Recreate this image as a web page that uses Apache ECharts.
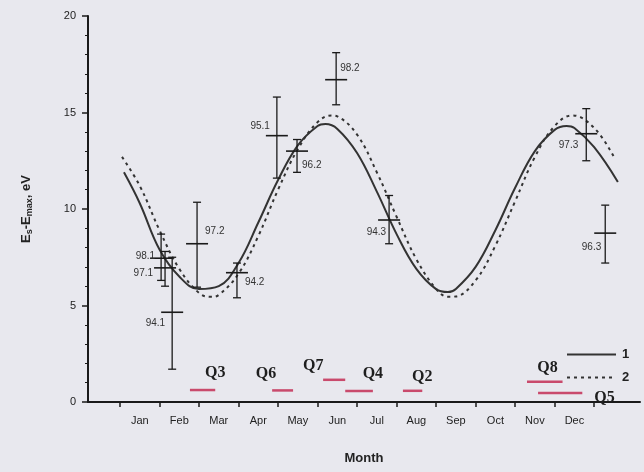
<!DOCTYPE html>
<html>
<head>
<meta charset="utf-8">
<script src="https://cdn.jsdelivr.net/npm/echarts@6/dist/echarts.min.js"></script>
<style>
  html, body { margin: 0; padding: 0; background: #e8e8ee; }
  #chart { width: 644px; height: 472px; }
</style>
</head>
<body>
<div id="chart"></div>
<script>
// Month names; x values are in months, January spans [0, 1].
const months = ['Jan', 'Feb', 'Mar', 'Apr', 'May', 'Jun', 'Jul', 'Aug', 'Sep', 'Oct', 'Nov', 'Dec'];
const yTicks = [0, 5, 10, 15, 20];

// Curve 1 (solid): [month, E_s - E_max]
const curve1 = [
  [0.1, 11.9], [0.5, 10.3], [1.0, 7.9], [1.5, 6.5], [2.0, 5.85], [2.5, 6.0],
  [3.0, 7.2], [3.5, 9.3], [4.0, 11.5], [4.5, 13.3], [5.0, 14.3], [5.2, 14.4],
  [5.5, 14.15], [6.0, 12.9], [6.5, 10.9], [7.0, 8.7], [7.5, 6.9], [8.0, 5.85],
  [8.3, 5.7], [8.5, 5.86], [9.0, 7.0], [9.5, 8.9], [10.0, 11.1], [10.5, 13.0],
  [11.0, 14.1], [11.3, 14.3], [11.5, 14.2], [12.0, 13.2], [12.6, 11.4]
];

// Curve 2 (dashed)
const curve2 = [
  [0.05, 12.7], [0.5, 11.2], [1.0, 8.9], [1.5, 6.9], [2.0, 5.65], [2.3, 5.45],
  [2.5, 5.55], [3.0, 6.65], [3.5, 8.6], [4.0, 11.0], [4.5, 13.1], [5.0, 14.5],
  [5.35, 14.85], [5.5, 14.8], [6.0, 13.85], [6.5, 11.9], [7.0, 9.6], [7.5, 7.4],
  [8.0, 5.86], [8.3, 5.45], [8.5, 5.47], [9.0, 6.3], [9.5, 8.1], [10.0, 10.4],
  [10.5, 12.7], [11.0, 14.3], [11.45, 14.85], [12.0, 14.2], [12.5, 12.7]
];

// Measurements: month, value, lower, upper, label
const measX     = [1.04, 1.14, 1.32, 1.95, 2.96, 3.97, 4.48, 5.47, 6.81, 11.8, 12.28];
const measY     = [7.45, 6.95, 4.65, 8.2, 6.7, 13.8, 13.0, 16.7, 9.43, 13.9, 8.75];
const measLow   = [6.3, 6.0, 1.7, 5.95, 5.4, 11.6, 11.9, 15.4, 8.2, 12.5, 7.2];
const measHigh  = [8.7, 7.8, 7.5, 10.35, 7.2, 15.8, 13.6, 18.1, 10.7, 15.2, 10.2];
const measLabel = ['98.1', '97.1', '94.1', '97.2', '94.2', '95.1', '96.2', '98.2', '94.3', '97.3', '96.3'];

// Observation periods: start month, end month, level, name
const qStart = [1.77, 3.85, 5.14, 5.7, 7.16, 10.3, 10.58];
const qEnd   = [2.41, 4.38, 5.7, 6.4, 7.65, 11.2, 11.7];
const qLevel = [0.62, 0.6, 1.15, 0.57, 0.58, 1.05, 0.47];
const qName  = ['Q3', 'Q6', 'Q7', 'Q4', 'Q2', 'Q8', 'Q5'];

// Text placement next to each measurement: [align, dx, dy]
const measTextPlace = {
  '98.1': ['right', -6, -2], '97.1': ['right', -12, 5], '94.1': ['right', -7, 11],
  '97.2': ['left', 8, -12], '94.2': ['left', 8, 10], '95.1': ['right', -7, -9],
  '96.2': ['left', 5, 14], '98.2': ['left', 4, -11], '94.3': ['right', -3, 12],
  '97.3': ['right', -8, 12], '96.3': ['right', -4, 14]
};
// Text placement for period names: [align, dx, dy] relative to segment end
const qTextPlace = {
  'Q3': ['center', 0, -17], 'Q6': ['center', -27, -17], 'Q7': ['center', -32, -14],
  'Q4': ['center', 0, -17], 'Q2': ['center', 0, -14], 'Q8': ['center', -15, -14],
  'Q5': ['left', 12, 5]
};

const measData = measX.map((x, i) => [x, measY[i], measLow[i], measHigh[i]]);
const qData = qStart.map((s, i) => [s, qEnd[i], qLevel[i]]);

const ink = '#222';
const chart = echarts.init(document.getElementById('chart'));

chart.setOption({
  backgroundColor: '#e8e8ee',
  animation: false,
  grid: { left: 88, right: 4, top: 16, bottom: 70, containLabel: false },
  xAxis: {
    type: 'value',
    min: -0.81,
    max: 13.16,
    name: 'Month',
    nameLocation: 'middle',
    nameGap: 50,
    nameTextStyle: { color: ink, fontSize: 13, fontFamily: 'Liberation Sans', fontWeight: 'bold' },
    splitLine: { show: false },
    axisLine: { show: true, onZero: false, lineStyle: { color: '#1a1a1a', width: 2 } },
    axisTick: {
      show: true, length: 5, lineStyle: { color: '#1a1a1a', width: 1.5 },
      customValues: months.map((m, i) => i).concat([12])
    },
    axisLabel: {
      color: ink, fontSize: 11, fontFamily: 'Liberation Sans', margin: 13,
      customValues: months.map((m, i) => i + 0.5),
      formatter: v => months[Math.floor(v)]
    }
  },
  yAxis: {
    type: 'value',
    min: 0,
    max: 20,
    interval: 5,
    name: '{t|E}{s|s}{t|-E}{s|max}{t|, eV}',
    nameLocation: 'middle',
    nameGap: 54,
    nameTextStyle: {
      rich: {
        t: { fontSize: 13, color: ink, fontFamily: 'Liberation Sans', fontWeight: 'bold' },
        s: { fontSize: 9, color: ink, fontFamily: 'Liberation Sans', fontWeight: 'bold', padding: [7, 0, 0, 0] }
      }
    },
    splitLine: { show: false },
    axisLine: { show: true, onZero: false, lineStyle: { color: '#1a1a1a', width: 2 } },
    axisTick: { show: true, length: 6, lineStyle: { color: '#1a1a1a', width: 1.5 } },
    minorTick: { show: true, splitNumber: 5, length: 3, lineStyle: { color: '#1a1a1a', width: 1 } },
    axisLabel: {
      color: ink, fontSize: 11, fontFamily: 'Liberation Sans', margin: 12,
      customValues: yTicks
    }
  },
  legend: {
    orient: 'vertical',
    left: 561,
    top: 343,
    itemWidth: 49,
    itemHeight: 14,
    itemGap: 10,
    data: ['1', '2'],
    itemStyle: { opacity: 0 },
    textStyle: { color: ink, fontSize: 13, fontWeight: 'bold', fontFamily: 'Liberation Sans', padding: [0, 0, 0, 1] }
  },
  series: [
    {
      name: '1',
      type: 'line',
      data: curve1,
      smooth: 0.4,
      symbol: 'none',
      lineStyle: { color: '#333', width: 2 },
      itemStyle: { color: '#333' },
      z: 3
    },
    {
      name: '2',
      type: 'line',
      data: curve2,
      smooth: 0.4,
      symbol: 'none',
      lineStyle: { color: '#333', width: 2, type: [3, 4] },
      itemStyle: { color: '#333' },
      z: 3
    },
    {
      name: 'meas',
      type: 'custom',
      data: measData,
      z: 4,
      renderItem: (params, api) => {
        const x = api.value(0);
        const c = api.coord([x, api.value(1)]);
        const lo = api.coord([x, api.value(2)]);
        const hi = api.coord([x, api.value(3)]);
        const label = measLabel[params.dataIndex];
        const place = measTextPlace[label];
        const st = { stroke: '#1a1a1a', lineWidth: 1.3 };
        return {
          type: 'group',
          children: [
            { type: 'line', shape: { x1: c[0], y1: lo[1], x2: c[0], y2: hi[1] }, style: st },
            { type: 'line', shape: { x1: c[0] - 4, y1: lo[1], x2: c[0] + 4, y2: lo[1] }, style: st },
            { type: 'line', shape: { x1: c[0] - 4, y1: hi[1], x2: c[0] + 4, y2: hi[1] }, style: st },
            { type: 'line', shape: { x1: c[0] - 11, y1: c[1], x2: c[0] + 11, y2: c[1] }, style: { stroke: '#1a1a1a', lineWidth: 1.6 } },
            {
              type: 'text',
              style: {
                x: c[0] + place[1], y: c[1] + place[2], text: label,
                align: place[0], verticalAlign: 'middle',
                fill: '#333', fontSize: 10, fontFamily: 'Liberation Sans'
              }
            }
          ]
        };
      }
    },
    {
      name: 'periods',
      type: 'custom',
      data: qData,
      z: 4,
      renderItem: (params, api) => {
        const a = api.coord([api.value(0), api.value(2)]);
        const b = api.coord([api.value(1), api.value(2)]);
        const name = qName[params.dataIndex];
        const place = qTextPlace[name];
        return {
          type: 'group',
          children: [
            { type: 'line', shape: { x1: a[0], y1: a[1], x2: b[0], y2: b[1] }, style: { stroke: '#c94a6c', lineWidth: 2.5 } },
            {
              type: 'text',
              style: {
                x: b[0] + place[1], y: b[1] + place[2], text: name,
                align: place[0], verticalAlign: 'middle',
                fill: '#1e1e1e', fontSize: 16, fontWeight: 'bold', fontFamily: 'Liberation Serif'
              }
            }
          ]
        };
      }
    }
  ]
});
</script>
</body>
</html>
